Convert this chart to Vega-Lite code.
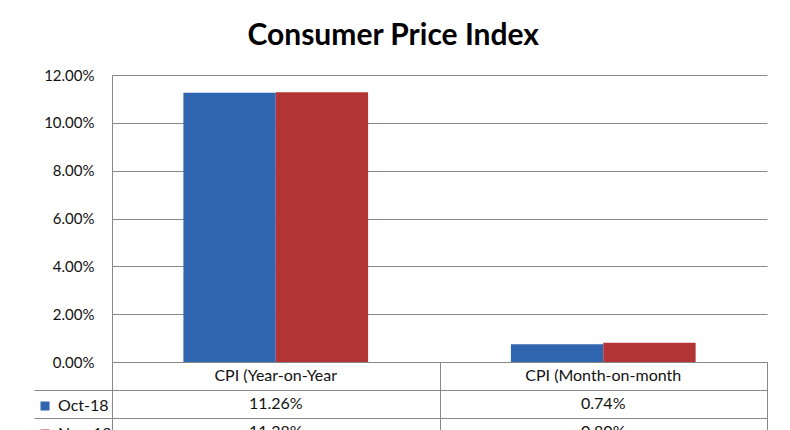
{
  "$schema": "https://vega.github.io/schema/vega-lite/v6.json",
  "padding": {"left": 33, "top": 21, "right": 20, "bottom": 0},
  "background": "white",
  "title": {"text": "Consumer Price Index", "fontSize": 30, "font": "Lato", "fontWeight": "bold", "color": "#000000", "anchor": "middle", "frame": "bounds", "offset": 17, "dx": -7},
  "datasets": {
    "cpi": [
      {"category": "CPI (Year-on-Year", "series": "Oct-18", "value": 0.1126},
      {"category": "CPI (Year-on-Year", "series": "Nov-18", "value": 0.1128},
      {"category": "CPI (Month-on-month", "series": "Oct-18", "value": 0.0074},
      {"category": "CPI (Month-on-month", "series": "Nov-18", "value": 0.0080}
    ],
    "headers": [
      {"category": "CPI (Year-on-Year", "series": "hdr"},
      {"category": "CPI (Month-on-month", "series": "hdr"}
    ]
  },
  "spacing": 0,
  "bounds": "flush",
  "vconcat": [
    {
      "width": 655,
      "height": 287,
      "data": {"name": "cpi"},
      "mark": {"type": "bar"},
      "encoding": {
        "x": {"field": "category", "type": "nominal", "sort": ["CPI (Year-on-Year", "CPI (Month-on-month"], "scale": {"paddingInner": 0.436, "paddingOuter": 0.218}, "axis": null},
        "xOffset": {"field": "series", "type": "nominal", "sort": ["Oct-18", "Nov-18"]},
        "y": {"field": "value", "type": "quantitative", "scale": {"domain": [0, 0.12]},
          "axis": {"values": [0, 0.02, 0.04, 0.06, 0.08, 0.1, 0.12], "format": ".2%", "ticks": false, "labelPadding": 18, "domainColor": "#888888", "gridColor": "#888888", "labelFontSize": 15, "labelFont": "Lato", "labelColor": "#111111", "title": null}},
        "color": {"field": "series", "type": "nominal", "scale": {"domain": ["Oct-18", "Nov-18"], "range": ["#3066b0", "#b33434"]}, "legend": null}
      }
    },
    {
      "width": 655,
      "height": 84,
      "view": {"stroke": "#888888"},
      "encoding": {
        "x": {"field": "category", "type": "nominal", "sort": ["CPI (Year-on-Year", "CPI (Month-on-month"], "scale": {"paddingInner": 0, "paddingOuter": 0},
          "axis": {"values": ["CPI (Month-on-month"], "labels": false, "ticks": false, "domain": false, "grid": true, "gridColor": "#888888", "tickBand": "extent", "title": null}},
        "y": {"field": "series", "type": "nominal", "scale": {"domain": ["hdr", "Oct-18", "Nov-18"], "paddingInner": 0, "paddingOuter": 0},
          "axis": {"values": ["Oct-18", "Nov-18"], "labels": false, "ticks": true, "tickSize": 78, "tickColor": "#888888", "domain": false, "grid": true, "gridColor": "#888888", "tickBand": "extent", "title": null}}
      },
      "layer": [
        {"data": {"name": "headers"}, "mark": {"type": "text", "font": "Lato", "fontSize": 16, "color": "#111111"}, "encoding": {"text": {"field": "category"}}},
        {"data": {"name": "cpi"}, "mark": {"type": "text", "font": "Lato", "fontSize": 16, "color": "#111111"}, "encoding": {"text": {"field": "value", "type": "quantitative", "format": ".2%"}}},
        {"data": {"name": "cpi"}, "mark": {"type": "square", "opacity": 0},
          "encoding": {"color": {"field": "series", "type": "nominal", "scale": {"domain": ["Oct-18", "Nov-18"], "range": ["#3066b0", "#b33434"]},
            "legend": {"orient": "left", "title": " ", "titleFontSize": 16, "titlePadding": 20, "labelFontSize": 16, "labelFont": "Lato", "labelColor": "#111111", "labelOffset": 5, "rowPadding": 12, "offset": -79, "padding": 0, "symbolType": "square", "symbolSize": 81, "symbolOpacity": 1, "symbolStrokeWidth": 0}}}}
      ]
    }
  ],
  "resolve": {"scale": {"x": "independent", "y": "independent", "color": "independent"}, "legend": {"color": "independent"}},
  "config": {"view": {"stroke": null}, "font": "Lato"}
}
